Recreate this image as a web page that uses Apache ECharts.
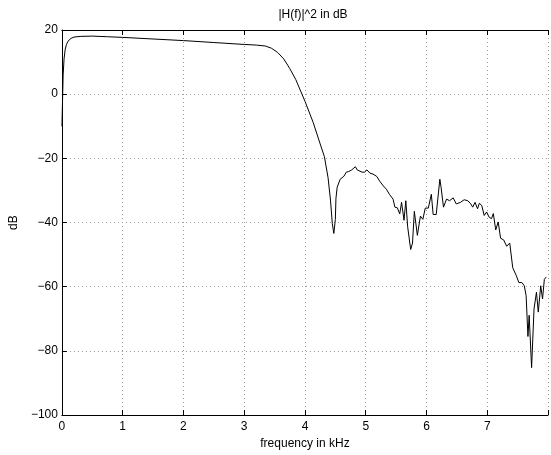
<!DOCTYPE html>
<html>
<head>
<meta charset="utf-8">
<script src="https://cdn.jsdelivr.net/npm/echarts@6/dist/echarts.min.js"></script>
<style>
html,body{margin:0;padding:0;background:#fff;}
#c{width:551px;height:455px;}
</style>
</head>
<body>
<div id="c"></div>
<script>
const titleText = '|H(f)|^2 in dB';
const xName = 'frequency in kHz';
const yName = 'dB';
const xTicks = [0, 1, 2, 3, 4, 5, 6, 7];
const yTicks = [-100, -80, -60, -40, -20, 0, 20];

const freq = [0, 0.01, 0.02, 0.035, 0.054, 0.075, 0.1, 0.15, 0.2, 0.3, 0.5, 0.75, 1.0, 1.5, 2.0, 2.5, 3.0, 3.2, 3.35, 3.45, 3.55, 3.65, 3.75, 3.85, 4.0, 4.135, 4.24, 4.32, 4.38, 4.42, 4.45, 4.475, 4.50, 4.51, 4.53, 4.58, 4.64, 4.68, 4.72, 4.77, 4.83, 4.86, 4.89, 4.94, 4.98, 5.02, 5.07, 5.12, 5.18, 5.23, 5.29, 5.34, 5.39, 5.45, 5.48, 5.52, 5.56, 5.59, 5.63, 5.66, 5.69, 5.74, 5.77, 5.80, 5.85, 5.90, 5.94, 5.98, 6.03, 6.08, 6.11, 6.16, 6.22, 6.24, 6.28, 6.33, 6.38, 6.44, 6.49, 6.56, 6.62, 6.68, 6.73, 6.76, 6.80, 6.84, 6.87, 6.91, 6.95, 6.99, 7.03, 7.07, 7.10, 7.14, 7.18, 7.22, 7.27, 7.32, 7.37, 7.42, 7.48, 7.52, 7.57, 7.61, 7.64, 7.67, 7.69, 7.73, 7.77, 7.81, 7.84, 7.88, 7.91, 7.94, 7.97];
const dB = [-10, -2, 6, 11, 14, 15.5, 16.5, 17.4, 17.8, 18, 18.1, 17.9, 17.7, 17.2, 16.7, 16.1, 15.5, 15.3, 15.0, 14.3, 13, 11, 8, 4.5, -2.2, -8.8, -14.9, -19.5, -26, -33, -40.3, -43.4, -39, -32.5, -29, -26.5, -25.6, -24.3, -24.1, -23.6, -22.6, -23.6, -23.2, -24.3, -24.3, -23.6, -24.6, -24.9, -25.6, -27.1, -28.6, -29.6, -31.2, -32.7, -35.2, -35.4, -37.3, -33.7, -39.3, -33.2, -41.3, -48.4, -46.4, -36.5, -44, -38, -39, -35.5, -35.5, -31.2, -37.5, -37.5, -26.5, -29, -35.2, -32.7, -33.2, -32.3, -34.2, -33.7, -32.9, -33.2, -34.2, -35.2, -33.7, -35.7, -34, -34.7, -37.8, -36.7, -38.3, -38.8, -37.2, -42.3, -39.8, -44.9, -45.4, -47.4, -46.4, -54.1, -56.6, -58.7, -58.7, -59.7, -62.8, -75.5, -68.9, -85.2, -66.9, -61.7, -67.9, -59.7, -63.8, -57.7, -57];

const font = 'Liberation Sans, Arial, Helvetica, sans-serif';
const chart = echarts.init(document.getElementById('c'), null, {renderer: 'canvas'});
const gridLine = {show: true, lineStyle: {color: '#9a9a9a', type: [1, 3], width: 1}};
chart.setOption({
  animation: false,
  backgroundColor: '#fff',
  title: {
    text: titleText, left: 308, top: 4, textAlign: 'center',
    textStyle: {fontFamily: font, fontSize: 12, fontWeight: 'normal', color: '#000'}
  },
  grid: {left: 61, right: -4, top: 30, bottom: 32, containLabel: false},
  xAxis: [{
    type: 'value', min: 0, max: 8, interval: 1, position: 'bottom',
    name: xName, nameLocation: 'middle', nameGap: 22,
    nameTextStyle: {fontFamily: font, fontSize: 12, color: '#000'},
    axisLine: {show: true, onZero: false, lineStyle: {color: '#000', width: 1}},
    axisTick: {show: true, inside: true, length: 5, lineStyle: {color: '#000'}},
    axisLabel: {fontFamily: font, fontSize: 12, color: '#000', margin: 6,
      formatter: v => xTicks.indexOf(v) >= 0 ? String(v) : ''},
    splitLine: gridLine
  }, {
    type: 'value', min: 0, max: 8, interval: 1, position: 'top',
    axisLine: {show: true, onZero: false, lineStyle: {color: '#000', width: 1}},
    axisTick: {show: true, inside: true, length: 5, lineStyle: {color: '#000'}},
    axisLabel: {show: false}, splitLine: {show: false}
  }],
  yAxis: [{
    type: 'value', min: -100, max: 20, interval: 20,
    name: yName, nameLocation: 'middle', nameGap: 37, nameRotate: 90,
    nameTextStyle: {fontFamily: font, fontSize: 12, color: '#000'},
    axisLine: {show: true, onZero: false, lineStyle: {color: '#000', width: 1}},
    axisTick: {show: true, inside: true, length: 5, lineStyle: {color: '#000'}},
    axisLabel: {fontFamily: font, fontSize: 12, color: '#000', margin: 4,
      formatter: v => yTicks.indexOf(v) >= 0 ? String(v).replace('-', '\u2212') : ''},
    splitLine: gridLine
  }],
  series: [{
    type: 'line', xAxisIndex: 0, yAxisIndex: 0,
    data: freq.map((f, i) => [f, dB[i]]),
    showSymbol: false, symbol: 'none', smooth: false,
    lineStyle: {color: '#000', width: 1}
  }]
});
</script>
</body>
</html>
